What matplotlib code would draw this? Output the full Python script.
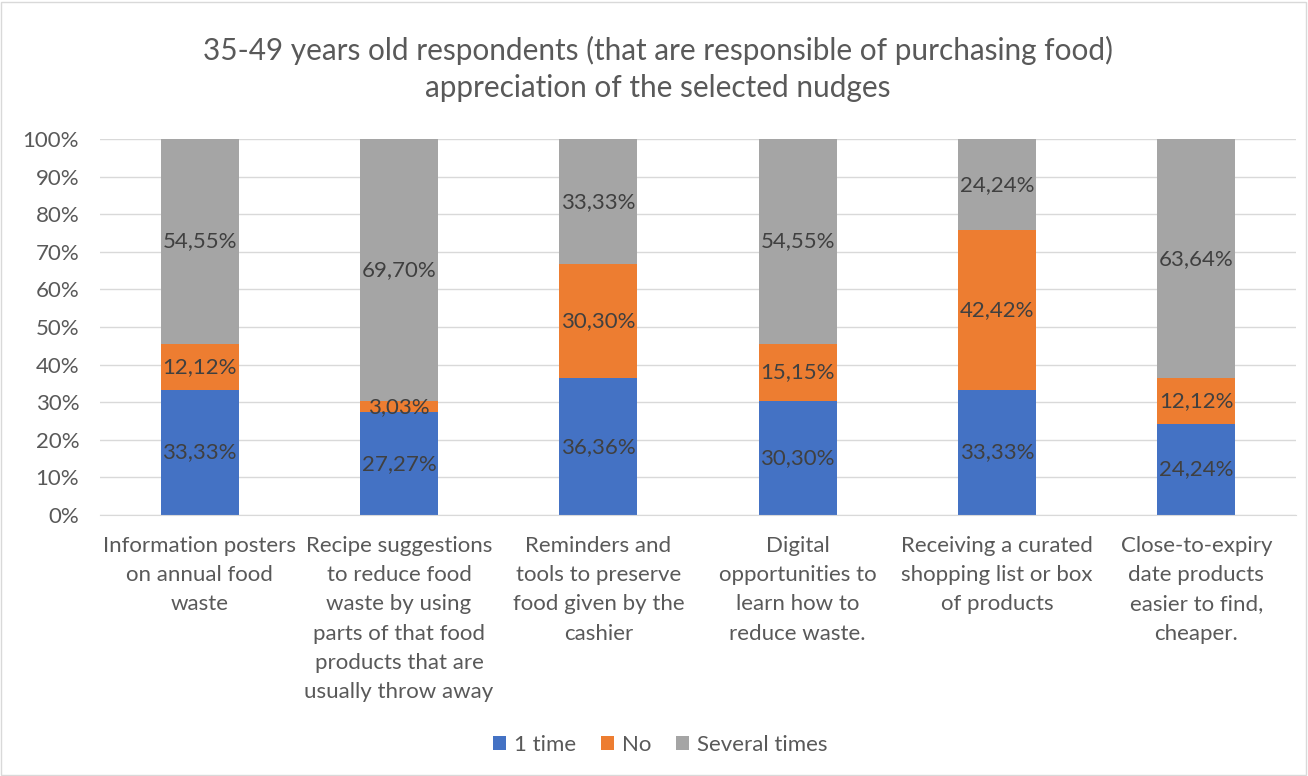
import matplotlib.pyplot as plt
import numpy as np
from matplotlib.patches import Rectangle

plt.rcParams['font.family'] = ['Lato', 'DejaVu Sans']

categories = [
    "Information posters\non annual food\nwaste",
    "Recipe suggestions\nto reduce food\nwaste by using\nparts of that food\nproducts that are\nusually throw away",
    "Reminders and\ntools to preserve\nfood given by the\ncashier",
    "Digital\nopportunities to\nlearn how to\nreduce waste.",
    "Receiving a curated\nshopping list or box\nof products",
    "Close-to-expiry\ndate products\neasier to find,\ncheaper.",
]
one_time = [33.33, 27.27, 36.36, 30.30, 33.33, 24.24]
no = [12.12, 3.03, 30.30, 15.15, 42.42, 12.12]
several = [54.55, 69.70, 33.33, 54.55, 24.24, 63.64]
series_names = ["1 time", "No", "Several times"]
colors = ["#4472C4", "#ED7D31", "#A5A5A5"]

W, H = 1308, 776
fig = plt.figure(figsize=(W / 100, H / 100), dpi=100)
fig.patches.append(Rectangle((1 / W, 1 / H), 1 - 3 / W, 1 - 3 / H, transform=fig.transFigure,
                             fill=False, edgecolor="#D9D9D9", linewidth=1))

ax = fig.add_axes([100 / W, (H - 515) / H, 1196 / W, 376 / H])

x = np.arange(len(categories))
bottom = np.zeros(len(categories))
for vals, name, c in zip([one_time, no, several], series_names, colors):
    vals = np.array(vals)
    ax.bar(x, vals, 0.39, bottom=bottom, color=c, label=name, zorder=2)
    for xi, b, v in zip(x, bottom, vals):
        ax.text(xi, b + v / 2, f"{v:.2f}%".replace(".", ","), ha="center", va="center",
                fontsize=16, color="#404040", zorder=3)
    bottom += vals

ax.set_xlim(-0.5, len(categories) - 0.5)
ax.set_ylim(0, 100)
ax.set_yticks(np.arange(0, 101, 10))
ax.set_yticklabels([f"{t}%" for t in range(0, 101, 10)])
ax.yaxis.grid(True, color="#D9D9D9", linewidth=1, zorder=0)
ax.set_xticks(x)
ax.set_xticklabels(categories, linespacing=1.58)
ax.tick_params(axis="both", length=0, labelsize=16, labelcolor="#595959")
ax.tick_params(axis="x", pad=15)
ax.tick_params(axis="y", pad=15)
for s in ["top", "right", "left"]:
    ax.spines[s].set_visible(False)
ax.spines["bottom"].set_color("#D9D9D9")

fig.text(658 / W, 1 - 69 / H, "35-49 years old respondents (that are responsible of purchasing food)\nappreciation of the selected nudges",
         ha="center", va="center", fontsize=21.4, color="#595959", linespacing=1.38)

fig.legend(loc="center", bbox_to_anchor=(660 / W, 1 - 745 / H), ncol=3, frameon=False,
           fontsize=16, labelcolor="#595959", handlelength=0.6, handleheight=0.6,
           handletextpad=0.35, columnspacing=1.1)

fig.savefig("out.png", dpi=100)
